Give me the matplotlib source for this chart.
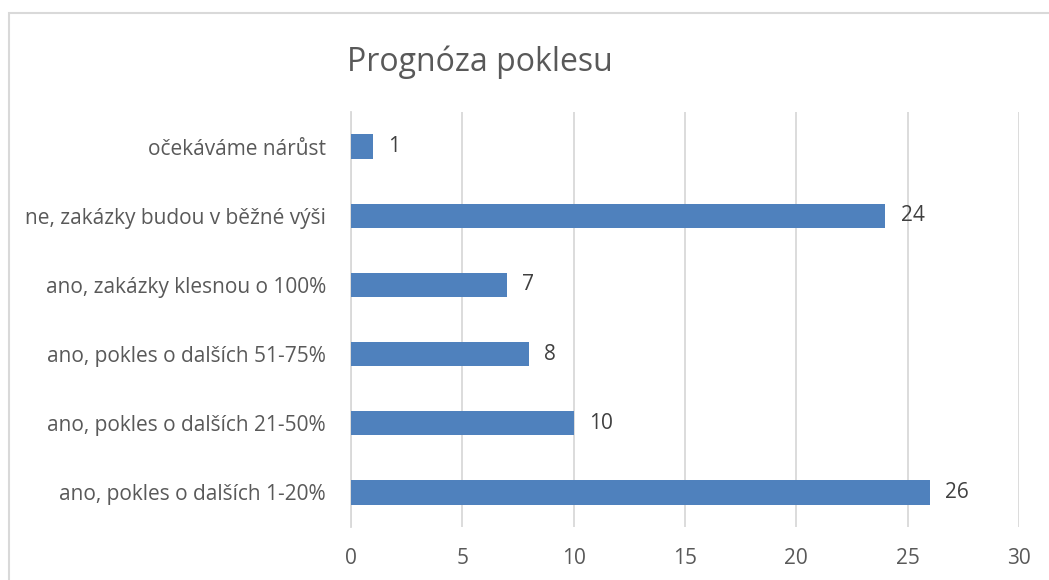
import matplotlib
matplotlib.use("Agg")
from matplotlib import pyplot as plt
from matplotlib.patches import Rectangle

categories = [
    "ano, pokles o dalších 1-20%",
    "ano, pokles o dalších 21-50%",
    "ano, pokles o dalších 51-75%",
    "ano, zakázky klesnou o 100%",
    "ne, zakázky budou v běžné výši",
    "očekáváme nárůst",
]
values = [26, 10, 8, 7, 24, 1]
xticks = [0, 5, 10, 15, 20, 25, 30]

text_color = "#595959"
grid_color = "#d9d9d9"
bar_color = "#4f81bd"

plt.rcParams["font.family"] = ["Open Sans", "DejaVu Sans"]

fig = plt.figure(figsize=(10.49, 5.8), dpi=100)
ax = fig.add_axes((351 / 1049, 1 - 527 / 580, 668 / 1049, 415 / 580))

ypos = list(range(len(categories)))
ax.barh(ypos, values, height=0.35, color=bar_color, zorder=3)
for y, v in zip(ypos, values):
    ax.annotate(str(v), (v, y), xytext=(11, 0), textcoords="offset points",
                va="center", ha="left", fontsize=15, color="#404040")

ax.set_xlim(0, 30)
ax.set_ylim(-0.5, len(categories) - 0.5)
ax.set_xticks(xticks)
ax.set_yticks(ypos)
ax.set_yticklabels(categories)
ax.tick_params(axis="both", length=0, labelsize=15, labelcolor=text_color)
ax.tick_params(axis="x", pad=15)
ax.tick_params(axis="y", pad=18)
ax.grid(axis="x", color=grid_color, linewidth=1.3, zorder=0)
for s in ["top", "right", "bottom"]:
    ax.spines[s].set_visible(False)
ax.spines["left"].set_color(grid_color)
ax.spines["left"].set_linewidth(1.3)

fig.text(480 / 1049, 1 - 62 / 580, "Prognóza poklesu", ha="center", va="center",
         fontsize=23, color=text_color)

# chart frame, cut off at right and bottom
fig.patches.append(Rectangle((9 / 1049, -0.1), 1.2, 1 - 13 / 580 + 0.1,
                             transform=fig.transFigure, fill=False,
                             edgecolor=grid_color, linewidth=1.5))

fig.savefig("out.png", dpi=100)
